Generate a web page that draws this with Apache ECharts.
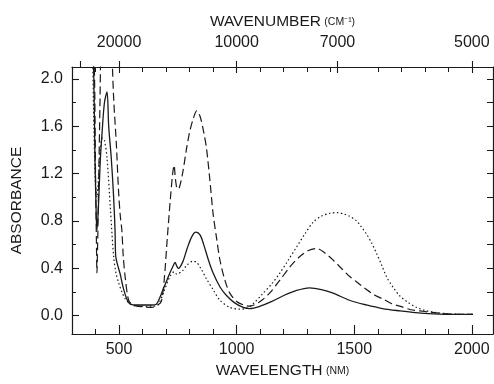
<!DOCTYPE html>
<html><head><meta charset="utf-8">
<script src="https://cdn.jsdelivr.net/npm/echarts@6/dist/echarts.min.js"></script>
<style>html,body{margin:0;padding:0;background:#fff}#c{width:494px;height:384px}</style>
</head><body><div id="c"></div>
<script>
// Wavelength (nm) / absorbance for the three spectra
const solidX = [385,392,398,403,406,412,420,428,438,449,456,467,477,483,486,495,505,520,541,570,600,640,660,687,716,730,738,745,752,770,790,810,827,845,860,880,900,930,957,990,1028,1056,1100,1150,1200,1250,1310,1360,1410,1480,1552,1620,1694,1760,1836,1920,2005];
const solidY = [2.6,2.1,1.3,0.85,0.72,0.9,1.3,1.55,1.8,1.89,1.6,1.33,1.0,0.72,0.5,0.42,0.35,0.22,0.11,0.09,0.09,0.09,0.1,0.22,0.36,0.42,0.45,0.42,0.40,0.45,0.57,0.67,0.705,0.68,0.6,0.47,0.36,0.24,0.17,0.11,0.07,0.06,0.08,0.12,0.17,0.21,0.235,0.22,0.19,0.13,0.09,0.06,0.04,0.025,0.015,0.01,0.01];
const dashX = [385,395,400,404,406,409,414,419,423,430,465,472,478,488,498,505,512,518,527,541,560,600,640,665,680,692,705,718,728,734,740,748,756,770,787,800,815,830,845,860,872,886,900,915,929,950,971,1000,1030,1056,1100,1140,1184,1230,1269,1305,1340,1375,1410,1445,1481,1520,1552,1590,1623,1660,1694,1740,1779,1820,1864,1930,2005];
const dashY = [2.6,2.1,1.2,0.6,0.36,0.6,1.2,1.8,2.3,2.6,2.6,2.1,1.8,1.47,1.05,0.85,0.72,0.5,0.31,0.13,0.09,0.075,0.07,0.09,0.12,0.3,0.65,0.98,1.2,1.27,1.15,1.07,1.08,1.2,1.41,1.55,1.66,1.73,1.68,1.55,1.41,1.15,0.86,0.65,0.47,0.3,0.19,0.12,0.09,0.08,0.12,0.19,0.3,0.42,0.5,0.55,0.567,0.53,0.47,0.4,0.33,0.27,0.22,0.17,0.14,0.1,0.08,0.05,0.04,0.03,0.02,0.012,0.01];
const dotX = [385,393,400,406,412,420,430,438,449,463,477,487,498,512,527,555,600,640,665,690,716,735,745,770,790,815,830,850,872,900,929,971,1014,1040,1070,1113,1150,1184,1220,1255,1290,1326,1360,1397,1430,1453,1480,1510,1530,1552,1575,1595,1616,1637,1665,1694,1730,1765,1800,1836,1906,2005];
const dotY = [2.6,1.6,1.1,1.0,1.15,1.4,1.5,1.48,1.33,0.91,0.5,0.36,0.28,0.2,0.14,0.09,0.08,0.08,0.09,0.2,0.33,0.37,0.35,0.38,0.43,0.46,0.45,0.39,0.31,0.22,0.13,0.07,0.055,0.06,0.1,0.19,0.27,0.36,0.47,0.58,0.69,0.79,0.84,0.865,0.87,0.86,0.84,0.8,0.75,0.69,0.61,0.525,0.43,0.33,0.24,0.166,0.11,0.07,0.045,0.03,0.015,0.01];

// Tick labels
const wavelengthTicks = [500,1000,1500,2000];
const wavenumberTicks = [20000,10000,7000,5000];
const wavenumberMajorTicks = [30000,20000,10000,7000,5000];
const absorbanceTicks = [0.0,0.4,0.8,1.2,1.6,2.0];
const absorbanceMinor = [0.2,0.6,1.0,1.4,1.8];
const absorbanceAll = [0.0,0.2,0.4,0.6,0.8,1.0,1.2,1.4,1.6,1.8,2.0];
const wavelengthMinor = [400,600,700,800,900,1100,1200,1300,1400,1600,1700,1800,1900];

const X_MIN = 300, X_MAX = 2090, Y_MIN = -0.155, Y_MAX = 2.1;
const INK = '#1a1a1a';
const FONT = 'Liberation Sans';
const pairs = (xs, ys) => xs.map((x, i) => [x, ys[i]]);
const toNm = wn => 1e7 / wn;

const baseX = (extra) => Object.assign({
  type: 'value', min: X_MIN, max: X_MAX, gridIndex: 0,
  splitLine: {show: false},
  axisLine: {show: false, onZero: false, lineStyle: {color: INK, width: 1.2}},
  axisTick: {show: false},
  axisLabel: {show: false}
}, extra);
const baseY = (extra) => Object.assign({
  type: 'value', min: Y_MIN, max: Y_MAX, gridIndex: 0,
  splitLine: {show: false},
  axisLine: {show: false, onZero: false, lineStyle: {color: INK, width: 1.2}},
  axisTick: {show: false},
  axisLabel: {show: false}
}, extra);

const chart = echarts.init(document.getElementById('c'), null, {renderer: 'canvas'});
chart.setOption({
  backgroundColor: '#fff',
  animation: false,
  grid: {left: 72, right: 1, top: 67, bottom: 45.5},
  xAxis: [
    baseX({
      position: 'bottom',
      axisLine: {show: true, onZero: false, lineStyle: {color: INK, width: 1.2}},
      axisTick: {show: true, inside: true, length: 9, customValues: wavelengthTicks, lineStyle: {color: INK, width: 1.1}},
      axisLabel: {show: true, customValues: wavelengthTicks, margin: 8, color: INK, fontFamily: FONT, fontSize: 16,
        formatter: v => String(v)},
      name: '{a|WAVELENGTH} {b|(NM)}', nameLocation: 'middle', nameGap: 29,
      nameTextStyle: {color: INK, fontFamily: FONT, rich: {a: {fontSize: 15.5, fontFamily: FONT, color: INK}, b: {fontSize: 10.5, fontFamily: FONT, color: INK}}}
    }),
    baseX({
      position: 'bottom',
      axisTick: {show: true, inside: true, length: 5, customValues: wavelengthMinor, lineStyle: {color: INK, width: 1}}
    }),
    baseX({
      position: 'top',
      axisLine: {show: true, onZero: false, lineStyle: {color: INK, width: 1.2}},
      axisTick: {show: true, inside: false, length: 6, customValues: wavenumberMajorTicks.map(toNm), lineStyle: {color: INK, width: 1.1}},
      axisLabel: {show: true, customValues: wavenumberTicks.map(toNm), margin: 16, color: INK, fontFamily: FONT, fontSize: 16,
        formatter: v => String(Math.round(1e7 / v))},
      name: '{a|WAVENUMBER} {b|(CM⁻¹)}', nameLocation: 'middle', nameGap: 37,
      nameTextStyle: {color: INK, fontFamily: FONT, rich: {a: {fontSize: 15.5, fontFamily: FONT, color: INK}, b: {fontSize: 10.5, fontFamily: FONT, color: INK}}}
    }),
    baseX({
      position: 'top',
      axisTick: {show: true, inside: true, length: 6, customValues: wavenumberTicks.map(toNm), lineStyle: {color: INK, width: 1.1}}
    }),
    baseX({
      position: 'top',
      axisTick: {show: true, inside: true, length: 5, customValues: wavelengthMinor, lineStyle: {color: INK, width: 1}}
    })
  ],
  yAxis: [
    baseY({
      position: 'left',
      axisLine: {show: true, onZero: false, lineStyle: {color: INK, width: 1.2}},
      axisTick: {show: true, inside: true, length: 7, customValues: absorbanceTicks, lineStyle: {color: INK, width: 1.1}},
      axisLabel: {show: true, customValues: absorbanceTicks, margin: 9, color: INK, fontFamily: FONT, fontSize: 16,
        formatter: v => v.toFixed(1)},
      name: 'ABSORBANCE', nameLocation: 'middle', nameGap: 47, nameRotate: 90,
      nameTextStyle: {color: INK, fontFamily: FONT, fontSize: 15.5}
    }),
    baseY({
      position: 'left',
      axisTick: {show: true, inside: true, length: 4, customValues: absorbanceMinor, lineStyle: {color: INK, width: 1}}
    }),
    baseY({
      position: 'right',
      axisLine: {show: true, onZero: false, lineStyle: {color: INK, width: 1.2}},
      axisTick: {show: true, inside: true, length: 6, customValues: absorbanceAll, lineStyle: {color: INK, width: 1}}
    })
  ],
  series: [
    {type: 'line', xAxisIndex: 0, yAxisIndex: 0, data: pairs(solidX, solidY), showSymbol: false, smooth: 0.3, clip: true,
      lineStyle: {color: INK, width: 1.3, type: 'solid'}},
    {type: 'line', xAxisIndex: 0, yAxisIndex: 0, data: pairs(dashX, dashY), showSymbol: false, smooth: 0.3, clip: true,
      lineStyle: {color: INK, width: 1.2, type: [8, 4]}},
    {type: 'line', xAxisIndex: 0, yAxisIndex: 0, data: pairs(dotX, dotY), showSymbol: false, smooth: 0.3, clip: true,
      lineStyle: {color: INK, width: 1.2, type: [1.5, 2.5]}}
  ]
});
</script>
</body></html>
